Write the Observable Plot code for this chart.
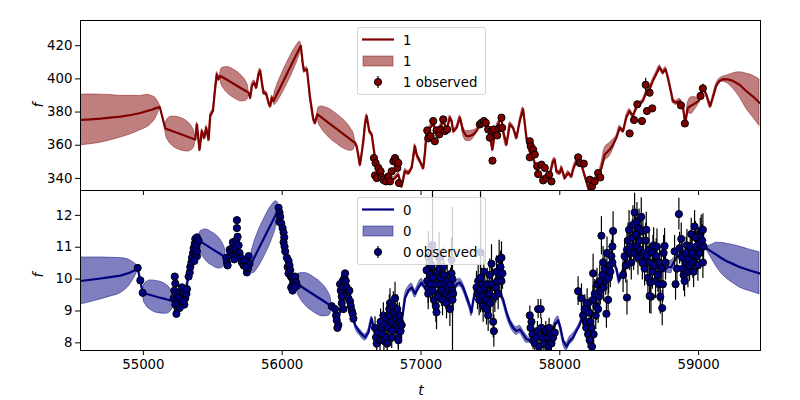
<!DOCTYPE html>
<html><head><meta charset="utf-8">
<script src="https://cdn.jsdelivr.net/npm/d3@7"></script>
<script src="https://cdn.jsdelivr.net/npm/@observablehq/plot@0.6"></script>
<style>
body{margin:0;background:#fff;font-family:"DejaVu Sans",sans-serif;}
#wrap{position:relative;width:800px;height:400px;overflow:hidden;}
#wrap > svg{position:absolute;left:0;}
.legend{position:absolute;background:rgba(255,255,255,0.8);border:1px solid rgba(204,204,204,0.8);border-radius:3px;box-sizing:border-box;}
.lab{position:absolute;font-family:"DejaVu Sans";font-style:italic;font-size:14px;line-height:16px;}
</style>
</head><body>
<div id="wrap"></div>
<script>
// ---------- data ----------
const xTicks = [55000, 56000, 57000, 58000, 59000];
const yTicks1 = [340, 360, 380, 400, 420];
const yTicks0 = [8, 9, 10, 11, 12];
const xDomain = [54547, 59446];
const yDomain1 = [332.7, 435.2];
const yDomain0 = [7.76, 12.78];
const bandDefault1 = 1.3;   // half-width of the band where data are dense
const bandDefault0 = 0.07;

// series "1": [t, mean, band half-width]
const line1 = [
[54547,375.2,15.3],[54620,375.6,15.0],[54691,376.0,14.5],[54760,376.6,13.7],[54835,377.2,12.6],[54910,378.2,11.6],[54979,379.4,10.3],[55026,380.6,9.8],[55060,381.4,8.3],[55086,382.2,6.4],[55105,382.7,3.6],[55118,383.0,1.2],
[55158,370.1,1.5],[55165,369.9,4.5],[55180,369.4,6.8],[55212,368.4,8.9],[55266,366.75,9.8],[55320,365.1,8.9],[55352,364.1,6.8],[55367,363.6,4.5],[55374,363.4,1.5],
[55386,372.5],[55405,357.4],[55422,368.5],[55439,364.5],[55453,370.5],[55470,363.4],[55482,377.6],[55501,380.6],[55518,394.8],[55530,402.8],[55542,399.8],[55554,401.8,1.5],
[55560,401.5,4.2],[55574,400.8,6],[55605,399.3,7.8],[55656,396.8,8.5],[55707,394.2,7.8],[55738,392.7,6],[55752,392.0,4.2],[55758,391.7,1.5],
[55770,388.7],[55782,395.8],[55799,397.8],[55813,394.8],[55830,402.8],[55842,404.9],[55854,397.8],[55866,391.7],[55885,391.1],[55902,385.6],[55914,383.6],[55926,388.7],[55938,386.7,1.5],
[55944,387.7,3.5],[55958,390.1,4.8],[55987,395.0,6],[56036,403.4,6.5],[56085,411.7,6],[56114,416.6,4.8],[56128,419.0,3.5],[56134,420.0,1.5],
[56149,408.9],[56158,404.9],[56178,405.9],[56201,388.7],[56225,375.6],[56237,373.5],[56254,378.6,1.5],
[56262,378.1,4.5],[56281,376.9,6.5],[56322,374.3,8.3],[56390,370.0,9],[56458,365.7,8.3],[56498,363.1,6.5],[56517,361.9,4.5],[56525,361.4,1.5],
[56537,359.4],[56561,348.3],[56585,362.4],[56597,372.5],[56609,377.6],[56628,368.5],[56645,366.5],[56669,352.3],[56681,346.3],[56705,343.2],[56741,340.2],[56777,338.2],[56813,340.2],[56837,342.2],[56861,335.2],[56885,344.3],[56909,343.2],[56933,346.3],[56957,359.4],[56969,354.4],[56993,350.3],[57017,346.3],[57029,355.4],[57041,367.5],[57065,370.5],[57089,372.5],[57113,368.5],[57137,370.5],[57161,374.6],[57185,369.5],[57209,376.6],[57221,374.6],[57233,368.5],[57257,370.5],[57281,376.6],[57304,368.5,2.5],[57328,365.5,3],[57352,365.5,3],[57376,366.5,2.5],[57400,368.5],[57424,372.5],[57448,374.6],[57472,370.5],[57496,366.5],[57515,357.4],[57532,366.5],[57544,370.5],[57568,374.6],[57580,376.6],[57592,368.5],[57616,360.4],[57640,372.5],[57664,370.5],[57688,364.5],[57712,374.6],[57736,381.6],[57760,364.5],[57784,356.4],[57808,352.3],[57832,346.3],[57856,342.2],
[57880,340.2],[57904,339.2],[57928,342.2],[57952,350.3],[57964,351.3],[57976,344.3],[58000,343.2],[58012,346.3],[58036,340.2],[58060,343.2],[58084,341.2],[58096,345.3],[58120,350.3],[58132,352.3],[58156,348.3],[58192,338.2],[58211,333.1],[58240,338.2],[58276,341.2],[58300,346.3,3],[58324,354.4,4],[58360,357.4,4],[58384,360.4,3],[58408,364.5],[58432,370.5],[58456,368.5],[58479,376.6],[58503,380.6],[58527,377.6],[58551,382.6],[58575,384.7],[58599,386.7],[58623,391.7],[58647,393.7],[58671,398.8],[58695,402.8],[58719,406.9],[58743,403.8],[58762,405.9],[58779,400.8],[58803,391.7],[58815,386.7],[58839,385.6],[58863,386.7],[58887,383.6],[58904,373.5],[58923,382.6,3],[58945,383.8,5],[58970,385.0,4],[59002,386.7],[59031,394.8],[59055,390.7],[59084,383.6],[59103,388.7],[59127,395.8],[59151,398.8],[59175,399.8,1.5],[59210,399.7,2.5],[59247,398.8,4.5],[59295,396.5,7.5],[59343,392.7,10.5],[59390,389.5,12.5],[59439,385.6,14]
];

// series "1" observed: [t, f, error]
const obs1 = [
[56661,352.3,1],[56669,341.8,1],[56673,349.3,1],[56681,340.2,1],[56693,346.3,1],[56709,344.3,1],[56717,340.6,4],[56729,339.2,1],[56748,338.2,1],[56765,341.2,1],[56777,338.2,1],[56789,344.3,1],[56801,350.3,1],[56813,352.3,1],[56820,350.7,1],[56830,346.3,1],[56837,349.3,1],[56841,337.2,1],
[57045,368.9,1],[57052,364.1,1],[57069,365.5,1],[57088,374.6,1],[57100,362.4,1],[57112,368.9,1],[57131,366.5,1],[57141,369.5,1],[57160,375.6,1],[57172,368.5,1],[57189,369.5,1],
[57424,372.5,1],[57436,373.5,1],[57453,374.6,1],[57467,373.5,1],[57484,369.5,1],[57496,364.5,1],[57508,368.5,1],[57515,350.7,1],[57525,369.5,1],[57549,365.9,1],[57563,370.1,1],[57580,376.6,2],[57585,370.5,1],
[57784,362.4,1],[57791,359.4,1],[57784,352.7,1],[57808,357.4,1],[57820,354.4,1],[57837,347.3,1],[57844,342.6,1],
[57868,348.3,1],[57880,338.8,1],[57892,346.3,1],[57904,340.2,1],[57923,342.2,1],[57940,338.2,1],
[58132,352.7,1],[58144,349.3,1],[58173,348.9,1],[58216,339.2,1],[58232,335.2,1],[58252,338.2,1],[58276,343.2,1],[58292,340.6,1],
[58503,367.1,1],[58535,375.2,1],[58559,384.7,1],[58592,374.6,1],[58619,396.4,4],[58628,380.6,1],[58647,391.7,1],[58666,382.2,1],
[58873,384.0,1],[58901,373.1,1],[59014,389.7,1],[59031,394.3,2.5]
];

// series "0": [t, mean, band half-width]
const line0 = [
[54547,9.94,0.74],[54620,9.98,0.70],[54691,10.02,0.66],[54760,10.06,0.61],[54835,10.11,0.55],[54900,10.20,0.40],[54931,10.26,0.25],[54950,10.31,0.14],[54959,10.33,0.05],[54979,9.94,0.05],[54995,9.57,0.05],
[55002,9.56,0.22],[55017,9.54,0.35],[55051,9.50,0.46],[55107,9.43,0.50],[55163,9.37,0.46],[55196,9.33,0.35],[55211,9.31,0.22],[55218,9.30,0.05],
[55242,9.25],[55266,9.54],[55290,9.45],[55314,9.84],[55334,10.23],[55350,10.52],[55362,10.82],[55374,11.16],[55398,11.21,0.05],
[55404,11.19,0.23],[55418,11.16,0.36],[55447,11.08,0.48],[55497,10.94,0.52],[55546,10.81,0.48],[55575,10.73,0.36],[55589,10.69,0.23],[55595,10.67,0.05],
[55614,10.82],[55638,10.97],[55662,11.06],[55674,10.82],[55698,10.57],[55722,10.48],[55746,10.38],[55770,10.43,0.05],
[55776,10.48,0.27],[55790,10.60,0.42],[55821,10.87,0.55],[55872,11.31,0.60],[55923,11.75,0.55],[55954,12.02,0.42],[55968,12.14,0.27],[55974,12.19,0.05],
[55986,11.90],[55998,11.60],[56010,11.21],[56022,10.82],[56034,10.52],[56046,10.33],[56058,10.08],[56082,9.89],[56100,9.87,0.05],
[56108,9.85,0.25],[56126,9.80,0.38],[56164,9.69,0.50],[56228,9.51,0.55],[56293,9.33,0.50],[56331,9.22,0.38],[56349,9.17,0.25],[56357,9.15,0.05],
[56381,8.96],[56405,8.66],[56429,9.35],[56453,10.13],[56477,9.64],[56501,9.05],[56525,8.56],[56561,8.32,0.1],[56597,8.17,0.1],[56621,8.32,0.1],[56645,8.76],[56669,8.27],[56693,8.07],[56717,8.17],[56741,8.47],[56765,8.66],[56789,9.05],[56813,8.86],[56837,8.56],[56861,8.66],[56885,9.40,0.12],[56909,9.64,0.12],[56933,9.74,0.12],[56957,9.54,0.12],[56981,9.74,0.12],[57004,9.89,0.12],[57028,9.74],[57052,9.54],[57076,9.64],[57112,9.59],[57136,9.69],[57160,9.45],[57184,9.54],[57208,9.64],[57232,9.64],[57256,9.84,0.12],[57280,9.89,0.12],[57304,9.74,0.12],[57328,9.45,0.12],[57352,9.15,0.12],[57364,8.95,0.12],[57376,9.30],[57400,9.74],[57424,9.84],[57448,9.74],[57472,9.54],[57496,9.64],[57520,9.74],[57544,9.54],[57568,9.54],[57592,9.35,0.12],[57616,8.96,0.12],[57640,8.66,0.12],[57664,8.47,0.12],[57688,8.37,0.12],[57712,8.42,0.12],[57736,8.27,0.12],[57760,8.12,0.12],[57784,8.07],[57808,7.98],[57832,7.93],[57856,7.88],
[57880,8.07],[57904,7.98],[57928,8.07],[57964,8.57,0.12],[57988,8.71,0.12],[58005,8.47,0.12],[58024,8.07,0.12],[58048,7.88,0.12],[58072,8.07,0.12],[58096,8.17,0.12],[58120,8.37],[58144,8.57],[58168,8.86],[58192,8.96],[58216,9.15],[58240,9.35],[58264,9.54],[58288,9.74],[58312,9.94],[58336,10.13],[58360,10.33],[58384,10.52],[58408,10.33,0.1],[58427,9.94,0.1],[58444,10.13],[58468,10.43],[58491,10.72],[58515,10.82],[58539,10.92],[58563,10.77],[58587,10.87],[58611,10.72],[58635,10.62],[58659,10.52],[58683,10.67],[58707,10.48],[58731,10.38],[58755,10.28],[58779,10.38,0.18],[58803,10.38,0.2],[58815,10.48,0.15],[58839,10.67],[58863,10.77],[58887,10.87],[58911,10.72],[58935,10.82],[58959,10.92],[58983,11.02],[59007,10.97],[59031,11.06],[59055,10.97,0.06],
[59090,10.87,0.20],[59127,10.77,0.37],[59160,10.67,0.47],[59199,10.57,0.54],[59250,10.47,0.60],[59295,10.38,0.64],[59370,10.27,0.65],[59439,10.18,0.66]
];

// series "0" observed: [t, f, error]
const obs0 = [
[54959,10.35,0.04],[54978,9.96,0.04],[54995,9.57,0.04],
[55226,10.08,0.04],[55230,9.86,0.04],[55223,9.64,0.04],[55235,9.54,0.04],[55218,9.40,0.04],[55242,9.35,0.04],[55230,9.20,0.04],[55247,9.06,0.04],[55238,8.91,0.04],[55254,9.45,0.04],[55266,9.59,0.04],[55274,9.25,0.04],[55262,9.10,0.04],[55278,9.74,0.04],[55290,9.54,0.04],[55302,9.40,0.04],[55310,9.54,0.04],[55314,9.69,0.04],[55295,9.20,0.04],[55286,9.30,0.04],
[55326,10.08,0.04],[55334,10.21,0.04],[55338,10.38,0.04],[55346,10.52,0.04],[55350,10.67,0.04],[55358,10.82,0.04],[55362,10.97,0.04],[55370,11.11,0.04],[55374,11.26,0.04],[55386,11.31,0.04],[55391,11.16,0.04],[55382,11.02,0.04],[55377,10.82,0.04],[55386,10.72,0.04],[55367,10.57,0.04],[55398,11.21,0.04],[55386,10.87,0.04],
[55597,10.67,0.04],[55602,10.52,0.04],[55607,10.43,0.04],[55621,10.92,0.04],[55631,10.82,0.04],[55638,10.97,0.04],[55645,11.16,0.04],[55650,10.72,0.04],[55655,10.62,0.04],[55662,10.97,0.04],[55669,11.21,0.04],[55674,11.60,0.06],[55674,11.85,0.08],[55679,11.33,0.04],[55686,11.06,0.04],[55693,10.82,0.04],[55703,10.67,0.04],[55710,10.52,0.04],[55722,10.43,0.04],[55734,10.57,0.04],[55746,10.21,0.04],[55753,10.33,0.04],[55758,10.72,0.04],[55765,10.48,0.04],[55739,10.38,0.04],
[55974,12.24,0.04],[55981,12.09,0.04],[55986,11.95,0.04],[55979,11.80,0.04],[55993,11.75,0.04],[56003,11.60,0.04],[56010,11.46,0.04],[56015,11.31,0.04],[56010,11.16,0.04],[56017,11.02,0.04],[56022,10.87,0.04],[56034,10.67,0.04],[56046,10.57,0.04],[56039,10.38,0.04],[56053,10.43,0.04],[56058,10.28,0.04],[56046,10.18,0.04],[56063,10.08,0.04],[56070,10.04,0.04],[56082,9.94,0.04],[56077,9.84,0.04],[56065,9.74,0.04],[56075,9.64,0.04],[56094,10.08,0.04],[56101,9.89,0.04],[56106,9.79,0.04],[56089,9.74,0.04],
[56357,9.15,0.04],[56381,9.06,0.04],[56388,8.86,0.04],[56393,8.71,0.04],[56405,8.56,0.04],[56398,8.47,0.04],[56417,9.84,0.04],[56422,9.64,0.04],[56429,9.45,0.04],[56436,9.94,0.04],[56441,9.74,0.04],[56448,10.04,0.04],[56453,10.18,0.04],[56458,9.94,0.04],[56465,9.74,0.04],[56470,9.54,0.04],[56477,9.40,0.04],[56484,9.64,0.04],[56489,9.30,0.04],[56494,9.15,0.04],[56501,9.01,0.04],[56508,8.91,0.04],[56513,8.76,0.04],[56429,9.25,0.04],[56441,9.06,0.04],
[56669,8.47,0.35],[56676,8.17,0.35],[56681,7.98,0.35],[56693,8.32,0.35],[56705,8.08,0.35],[56709,8.66,0.4],[56717,8.47,0.35],[56724,8.27,0.35],[56729,8.86,0.4],[56733,8.08,0.35],[56741,8.56,0.35],[56748,8.17,0.35],[56753,8.76,0.4],[56757,7.98,0.35],[56765,8.47,0.35],[56772,9.06,0.45],[56777,9.25,0.45],[56781,8.86,0.4],[56789,8.66,0.4],[56796,8.37,0.35],[56801,9.15,0.45],[56805,8.96,0.4],[56813,9.40,0.5],[56820,8.76,0.4],[56825,8.56,0.35],[56829,9.06,0.45],[56837,8.17,0.35],[56839,8.47,0.35],[56844,8.86,0.4],[56849,8.66,0.35],[56853,8.37,0.35],[56861,8.56,0.35],[56837,8.08,0.35],[56789,8.17,0.35],
[57040,10.28,0.5],[57045,9.94,0.5],[57052,9.74,0.5],[57052,9.54,0.5],[57064,10.13,0.5],[57069,9.84,0.5],[57076,10.43,0.6],[57083,9.64,0.5],[57088,10.04,0.5],[57093,9.35,0.5],[57100,9.84,0.5],[57107,9.15,0.5],[57112,8.96,0.55],[57117,10.23,0.5],[57124,9.45,0.5],[57131,10.33,0.6],[57136,9.84,0.5],[57141,10.04,0.5],[57148,9.64,0.5],[57155,9.35,0.5],[57160,10.38,0.6],[57165,10.13,0.5],[57172,9.84,0.5],[57179,9.54,0.5],[57184,9.25,0.5],[57189,9.94,0.5],[57196,9.74,0.5],[57203,9.45,0.5],[57208,9.06,0.55],[57213,9.84,0.5],[57220,10.18,0.5],[57225,9.64,0.5],[57227,9.35,0.5],[57232,9.54,0.5],
[57053,10.69,0.8],[57083,11.07,1.9],[57131,10.67,0.8],[57220,10.60,0.7],[57227,10.00,2.25],[57429,10.84,1.9],
[57400,9.74,0.5],[57407,9.54,0.5],[57412,9.94,0.5],[57419,9.35,0.5],[57424,9.64,0.5],[57429,10.04,0.5],[57436,9.84,0.5],[57443,9.45,0.5],[57448,9.15,0.5],[57453,10.23,0.6],[57460,9.74,0.5],[57467,9.35,0.5],[57472,9.06,0.5],[57477,9.84,0.5],[57484,8.86,0.5],[57491,9.54,0.5],[57496,10.13,0.5],[57501,9.25,0.5],[57508,10.48,0.6],[57515,9.84,0.5],[57520,8.66,0.5],[57525,8.37,0.5],[57532,9.45,0.5],[57539,9.74,0.5],[57544,10.23,0.5],[57549,9.94,0.5],[57556,9.54,0.5],[57563,10.62,0.6],[57568,10.08,0.5],[57573,10.38,0.5],[57580,9.94,0.5],[57587,10.18,0.5],[57580,10.67,0.5],
[57784,8.86,0.3],[57796,8.66,0.3],[57789,8.47,0.3],[57803,8.27,0.3],[57808,8.08,0.3],[57820,7.98,0.3],[57832,8.17,0.3],[57844,9.06,0.3],[57839,8.37,0.3],[57851,7.88,0.3],[57863,9.06,0.3],[57868,8.47,0.3],[57875,8.17,0.3],[57885,7.98,0.3],[57899,8.37,0.3],[57909,8.17,0.3],[57916,7.88,0.3],[57928,8.27,0.3],[57940,7.98,0.3],[57952,8.17,0.3],[57964,8.32,0.3],[57923,8.47,0.3],
[58132,9.62,0.45],[58156,9.40,0.45],[58168,8.86,0.45],[58180,9.06,0.45],[58187,8.66,0.45],[58192,8.47,0.45],[58197,9.25,0.45],[58204,8.27,0.45],[58211,8.96,0.45],[58216,8.08,0.45],[58220,8.66,0.45],[58228,8.47,0.45],[58232,7.88,0.45],[58240,9.35,0.45],[58240,10.18,0.6],[58244,8.27,0.45],[58252,9.54,0.45],[58259,8.86,0.45],[58264,9.15,0.45],[58268,9.84,0.5],[58276,9.06,0.45],[58283,9.45,0.45],[58288,9.94,0.5],[58292,9.64,0.45],[58300,11.36,0.6],[58307,10.13,0.5],[58312,10.52,0.5],[58316,9.74,0.45],[58324,10.33,0.5],[58331,9.94,0.45],[58336,8.91,0.45],[58340,10.82,0.5],[58348,9.35,0.45],[58352,10.04,0.5],[58360,10.43,0.5],[58364,10.23,0.5],[58372,10.72,0.5],[58379,11.02,0.5],[58384,11.51,0.6],[58379,10.52,0.5],
[58456,10.13,0.55],[58467,10.72,0.55],[58475,10.43,0.55],[58484,10.92,0.55],[58491,11.21,0.55],[58499,11.55,0.6],[58503,10.82,0.55],[58508,11.02,0.55],[58515,10.52,0.55],[58523,11.31,0.55],[58527,11.70,0.6],[58532,10.82,0.55],[58539,12.09,0.6],[58547,11.41,0.55],[58551,11.06,0.55],[58556,11.80,0.6],[58563,10.67,0.55],[58571,11.60,0.6],[58575,11.21,0.55],[58580,10.92,0.55],[58587,11.95,0.6],[58595,10.52,0.55],[58599,11.51,0.55],[58604,10.82,0.55],[58611,10.33,0.55],[58619,11.21,0.55],[58623,11.55,0.55],[58628,10.72,0.55],[58635,10.04,0.55],[58643,10.92,0.55],[58647,10.52,0.55],[58652,9.89,0.55],[58657,9.45,0.55],[58667,10.23,0.55],[58671,10.82,0.55],[58676,11.06,0.55],[58683,10.43,0.55],[58690,9.94,0.55],[58695,10.72,0.55],[58700,11.02,0.55],[58707,10.13,0.55],[58714,9.84,0.55],[58719,10.52,0.55],[58724,9.45,0.55],[58731,10.33,0.55],[58738,9.09,0.55],[58743,9.84,0.55],[58748,10.82,0.55],[58755,11.04,0.55],[58762,10.52,0.55],[58484,9.42,0.55],[58647,9.47,0.55],
[58827,10.87,0.5],[58834,9.84,0.5],[58844,10.33,0.5],[58858,12.04,0.5],[58863,10.97,0.5],[58875,11.26,0.5],[58882,10.67,0.5],[58887,10.33,0.5],[58892,10.13,0.5],[58899,9.94,0.5],[58906,10.52,0.5],[58911,10.82,0.5],[58916,11.06,0.5],[58923,10.23,0.5],[58930,10.62,0.5],[58935,10.43,0.5],[58940,11.02,0.5],[58947,11.41,0.5],[58954,10.82,0.5],[58959,10.52,0.5],[58964,10.23,0.5],[58971,11.65,0.5],[58978,11.31,0.5],[58983,11.02,0.5],[58988,10.72,0.5],[58995,10.43,0.5],[59002,11.11,0.5],[59007,10.82,0.5],[59012,11.41,0.5],[59019,11.51,0.5],[59026,11.21,0.5],[59031,10.52,0.5],[59036,11.02,0.5],[59031,11.55,0.5]
];

// ---------- drawing ----------
const wrap = document.getElementById("wrap");
const fmt = d3.format("d");

function panel(line, obs, bandDef, color, yDomain, yTicks, showXLabels, opts) {
  const rows = line.map(d => {
    const s = d.length > 2 ? d[2] : bandDef;
    return {t: d[0], f: d[1], lo: d[1] - s, hi: d[1] + s};
  });
  const pts = obs.map(d => ({t: d[0], f: d[1], lo: d[1] - d[2], hi: d[1] + d[2]}));
  return Plot.plot({
    width: 800, height: opts.height,
    marginLeft: 80, marginRight: 40, marginTop: opts.mt, marginBottom: opts.mb,
    style: {background: "transparent", fontFamily: "DejaVu Sans", fontSize: "13.3px", overflow: "visible"},
    x: {domain: xDomain},
    y: {domain: yDomain},
    marks: [
      Plot.areaY(rows, {x: "t", y1: "lo", y2: "hi", fill: color, fillOpacity: 0.5, stroke: color, strokeOpacity: 0.45, strokeWidth: 1, curve: "monotone-x", clip: true}),
      Plot.line(rows, {x: "t", y: "f", stroke: color, strokeWidth: 2.2, clip: true}),
      Plot.ruleX(pts, {x: "t", y1: "lo", y2: "hi", stroke: "black", strokeWidth: 1.2, clip: true}),
      Plot.dot(pts, {x: "t", y: "f", r: 3.6, fill: color, stroke: "black", strokeWidth: 1, clip: true}),
      Plot.frame({stroke: "black", strokeWidth: 1}),
      Plot.axisY({ticks: yTicks, tickSize: 5, tickPadding: 3, tickFormat: fmt, label: null}),
      Plot.axisX({ticks: xTicks, tickSize: 5, tickPadding: 4, tickFormat: showXLabels ? fmt : () => "", label: null})
    ]
  });
}

const topPanel = panel(line1, obs1, bandDefault1, "#800000", yDomain1, yTicks1, false, {height: 200, mt: 20, mb: 10});
topPanel.style.top = "0px";
const botPanel = panel(line0, obs0, bandDefault0, "#000080", yDomain0, yTicks0, true, {height: 210, mt: 0, mb: 50});
botPanel.style.top = "190px";
wrap.appendChild(topPanel);
wrap.appendChild(botPanel);

// axis labels
function addLabel(text, x, y, rot) {
  const d = document.createElement("div");
  d.className = "lab";
  d.textContent = text;
  d.style.left = x + "px"; d.style.top = y + "px";
  d.style.transform = "translate(-50%,-50%)" + (rot ? " rotate(-90deg)" : "");
  wrap.appendChild(d);
}
addLabel("f", 38, 105, true);
addLabel("f", 38, 275, true);
addLabel("t", 421, 390, false);

// legends
const legendNames = [["1", "1", "1 observed"], ["0", "0", "0 observed"]];
function addLegend(names, color, left, topY) {
  const d = document.createElement("div");
  d.className = "legend";
  d.style.left = left + "px"; d.style.top = topY + "px";
  d.style.width = "129px"; d.style.height = "68px";
  const ns = "http://www.w3.org/2000/svg";
  const s = document.createElementNS(ns, "svg");
  s.setAttribute("width", 127); s.setAttribute("height", 66);
  s.style.position = "absolute"; s.style.left = "0"; s.style.top = "0";
  s.innerHTML =
    `<line x1="4" x2="36" y1="11.5" y2="11.5" stroke="${color}" stroke-width="2.2"/>` +
    `<rect x="5" y="28" width="30" height="10" fill="${color}" fill-opacity="0.5" stroke="${color}" stroke-opacity="0.45"/>` +
    `<line x1="20" x2="20" y1="48" y2="60" stroke="black" stroke-width="1.2"/>` +
    `<circle cx="20" cy="54" r="3.6" fill="${color}" stroke="black"/>` +
    `<g font-family="DejaVu Sans" font-size="13.3px" fill="black" dominant-baseline="central">` +
    `<text x="45" y="12">${names[0]}</text><text x="45" y="33">${names[1]}</text><text x="45" y="54">${names[2]}</text></g>`;
  d.appendChild(s);
  wrap.appendChild(d);
}
addLegend(legendNames[0], "#800000", 357, 27);
addLegend(legendNames[1], "#000080", 357, 197);
</script>
</body></html>
